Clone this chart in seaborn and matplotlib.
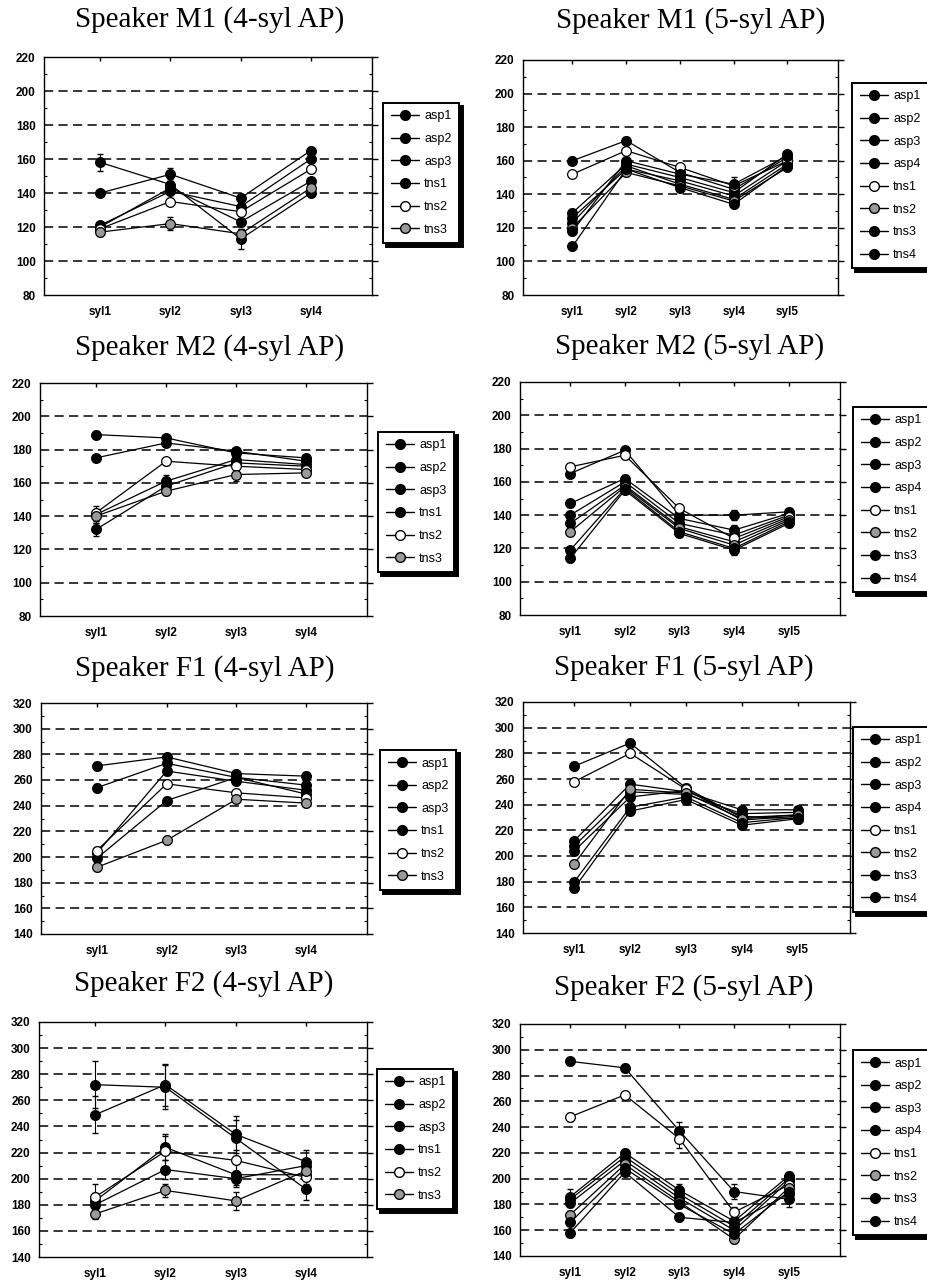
import numpy as np
import pandas as pd
import matplotlib
matplotlib.use("Agg")
import matplotlib.pyplot as plt
from matplotlib.lines import Line2D
from matplotlib.ticker import MultipleLocator
import seaborn as sns

sns.set_theme(style="white")
plt.rcParams["font.family"] = ["Liberation Sans", "DejaVu Sans"]
plt.rcParams["text.color"] = "black"
plt.rcParams["xtick.color"] = "black"
plt.rcParams["ytick.color"] = "black"

# ---- data (F0 in Hz) ----
syl4 = ["syl1", "syl2", "syl3", "syl4"]
syl5 = ["syl1", "syl2", "syl3", "syl4", "syl5"]
names4 = ["asp1", "asp2", "asp3", "tns1", "tns2", "tns3"]
names5 = ["asp1", "asp2", "asp3", "asp4", "tns1", "tns2", "tns3", "tns4"]

m1_4 = [[158, 145, 113, 140],
        [140, 151, 137, 165],
        [121, 141, 132, 160],
        [120, 143, 123, 147],
        [119, 135, 129, 154],
        [117, 122, 116, 143]]
m1_4_err = [[5, 3, 6, 2], [2, 4, 2, 2], [2, 2, 2, 2],
            [2, 2, 2, 2], [2, 2, 2, 2], [2, 4, 3, 2]]

m1_5 = [[160, 172, 153, 143, 162],
        [129, 158, 150, 141, 164],
        [126, 155, 148, 139, 160],
        [123, 157, 146, 137, 158],
        [152, 166, 156, 145, 160],
        [120, 153, 145, 136, 156],
        [118, 160, 152, 146, 163],
        [109, 155, 144, 134, 157]]
m1_5_err = [[2, 2, 2, 2, 2]] * 6 + [[2, 2, 2, 4, 2], [2, 2, 2, 2, 2]]

m2_4 = [[189, 187, 178, 175],
        [175, 184, 179, 173],
        [141, 161, 174, 171],
        [132, 158, 172, 170],
        [142, 173, 170, 168],
        [140, 155, 165, 166]]
m2_4_err = [[2, 2, 2, 2], [2, 2, 2, 2], [5, 4, 2, 2],
            [4, 2, 2, 2], [2, 2, 2, 2], [3, 2, 4, 2]]

m2_5 = [[165, 179, 140, 140, 142],
        [147, 162, 138, 131, 141],
        [140, 160, 135, 128, 140],
        [135, 158, 133, 124, 138],
        [169, 176, 144, 126, 139],
        [130, 157, 132, 122, 137],
        [119, 156, 130, 120, 136],
        [114, 155, 129, 119, 135]]
m2_5_err = [[2, 2, 2, 3, 2]] * 8

f1_4 = [[271, 278, 265, 263],
        [254, 273, 262, 256],
        [203, 267, 259, 252],
        [199, 244, 262, 249],
        [205, 257, 250, 246],
        [192, 213, 245, 242]]
f1_4_err = [[3, 3, 3, 3]] * 6

f1_5 = [[270, 288, 253, 230, 232],
        [212, 256, 250, 236, 236],
        [208, 250, 248, 233, 234],
        [204, 246, 251, 231, 229],
        [258, 280, 252, 228, 231],
        [194, 252, 249, 229, 232],
        [180, 238, 246, 226, 230],
        [175, 235, 244, 224, 229]]
f1_5_err = [[3, 3, 3, 3, 3]] * 8

f2_4 = [[272, 270, 231, 192],
        [249, 272, 234, 213],
        [183, 224, 203, 203],
        [180, 207, 200, 210],
        [186, 221, 214, 201],
        [173, 191, 183, 206]]
f2_4_err = [[18, 17, 14, 8], [14, 16, 14, 9], [6, 10, 8, 5],
            [5, 7, 6, 5], [10, 12, 8, 5], [4, 5, 7, 5]]

f2_5 = [[291, 286, 237, 190, 184],
        [186, 220, 191, 167, 202],
        [184, 217, 188, 163, 200],
        [181, 214, 185, 160, 198],
        [248, 265, 231, 174, 195],
        [172, 211, 182, 153, 193],
        [166, 208, 180, 157, 190],
        [158, 205, 170, 166, 188]]
f2_5_err = [[3, 3, 7, 6, 6], [6, 3, 5, 3, 3], [3, 3, 3, 3, 3], [3, 3, 3, 3, 3],
            [3, 3, 7, 4, 3], [3, 3, 3, 3, 3], [3, 3, 3, 3, 3], [3, 3, 3, 3, 3]]

titles = ["Speaker M1 (4-syl AP)", "Speaker M1 (5-syl AP)",
          "Speaker M2 (4-syl AP)", "Speaker M2 (5-syl AP)",
          "Speaker F1 (4-syl AP)", "Speaker F1 (5-syl AP)",
          "Speaker F2 (4-syl AP)", "Speaker F2 (5-syl AP)"]

# ---- layout (pixels in a 927x1283 canvas) ----
W, H = 927, 1283
# axes box: left, right, top, bottom ; legend top-left ; title centre
layout = [
    ((44, 372, 57, 295), (383, 103), (210, 20)),
    ((523, 838, 60, 295), (852, 83), (691, 21)),
    ((40, 367, 383, 616), (378, 432), (210, 348)),
    ((520, 840, 382, 615), (853, 407), (690, 347)),
    ((41, 367, 703, 934), (380, 750), (205, 669)),
    ((523, 850, 702, 933), (853, 727), (684, 668)),
    ((39, 367, 1022, 1257), (377, 1069), (204, 984)),
    ((520, 840, 1024, 1256), (853, 1050), (684, 988)),
]

panels = [(m1_4, m1_4_err, syl4, names4, (80, 220)),
          (m1_5, m1_5_err, syl5, names5, (80, 220)),
          (m2_4, m2_4_err, syl4, names4, (80, 220)),
          (m2_5, m2_5_err, syl5, names5, (80, 220)),
          (f1_4, f1_4_err, syl4, names4, (140, 320)),
          (f1_5, f1_5_err, syl5, names5, (140, 320)),
          (f2_4, f2_4_err, syl4, names4, (140, 320)),
          (f2_5, f2_5_err, syl5, names5, (140, 320))]


def face(name, n_syl):
    # open / grey markers differ between the 4- and 5-syllable charts
    if n_syl == 4:
        return {"tns2": "white", "tns3": "#9a9a9a"}.get(name, "black")
    return {"tns1": "white", "tns2": "#9a9a9a"}.get(name, "black")


fig = plt.figure(figsize=(W / 100, H / 100), dpi=100)

for (vals, errs, sylls, names, ylim), (box, lpos, tpos), title in zip(panels, layout, titles):
    l, r, t, b = box
    ax = fig.add_axes([l / W, 1 - b / H, (r - l) / W, (b - t) / H])
    n = len(sylls)

    rows = []
    for name, v, e in zip(names, vals, errs):
        for i in range(n):
            rows.append({"series": name, "pos": i, "f0": v[i], "err": e[i]})
    df = pd.DataFrame(rows)

    # dashed reference lines
    for yv in range(ylim[0] + 20, ylim[1], 20):
        ax.axhline(yv, color="black", lw=1.1, ls=(0, (6, 3.5)), zorder=1)

    handles = []
    for name in names:
        sub = df[df["series"] == name]
        fc = face(name, n)
        ax.errorbar(sub["pos"], sub["f0"], yerr=sub["err"], fmt="none",
                    ecolor="black", elinewidth=0.8, capsize=2, zorder=2)
        sns.lineplot(data=sub, x="pos", y="f0", ax=ax, color="black", lw=0.9,
                     marker="o", markersize=7, markerfacecolor=fc,
                     markeredgecolor="black", markeredgewidth=0.9,
                     legend=False, zorder=3)
        handles.append(Line2D([], [], color="black", lw=1.0, marker="o",
                              markersize=7, markerfacecolor=fc,
                              markeredgecolor="black", label=name))

    if n == 4:
        ax.set_xlim(-0.8, 3.87)
    else:
        ax.set_xlim(-0.92, 4.94)
    ax.set_ylim(*ylim)
    ax.set_xticks(range(n), sylls)
    ax.set_yticks(range(ylim[0], ylim[1] + 1, 20))
    ax.yaxis.set_minor_locator(MultipleLocator(10))
    ax.set_xlabel("")
    ax.set_ylabel("")

    for sp in ax.spines.values():
        sp.set_color("black")
        sp.set_linewidth(1.0)
    ax.tick_params(axis="y", which="major", direction="out", length=4, width=1,
                   color="black", labelsize=8.5, pad=2, right=True)
    ax.tick_params(axis="y", which="minor", direction="in", length=2.5, width=0.8,
                   color="black", left=True, right=True)
    ax.tick_params(axis="x", which="major", bottom=False, top=True, direction="in",
                   length=3, width=1, color="black", labelsize=8.5, pad=8)
    for lab in ax.get_xticklabels() + ax.get_yticklabels():
        lab.set_fontweight("bold")

    leg = ax.legend(handles=handles, loc="upper left",
                    bbox_to_anchor=(lpos[0] / W, 1 - lpos[1] / H),
                    bbox_transform=fig.transFigure, frameon=True, fancybox=False,
                    shadow={"ox": 2.5, "oy": -2.5, "facecolor": "black",
                            "edgecolor": "black", "alpha": 1},
                    edgecolor="black", framealpha=1, borderaxespad=0,
                    fontsize=9, labelspacing=0.85, handlelength=2.3,
                    handletextpad=0.4, borderpad=0.6)
    leg.get_frame().set_linewidth(1.4)

    fig.text(tpos[0] / W, 1 - tpos[1] / H, title, ha="center", va="center",
             fontsize=21, color="black", family=["Liberation Serif", "DejaVu Serif"])

fig.savefig("out.png", dpi=100)
